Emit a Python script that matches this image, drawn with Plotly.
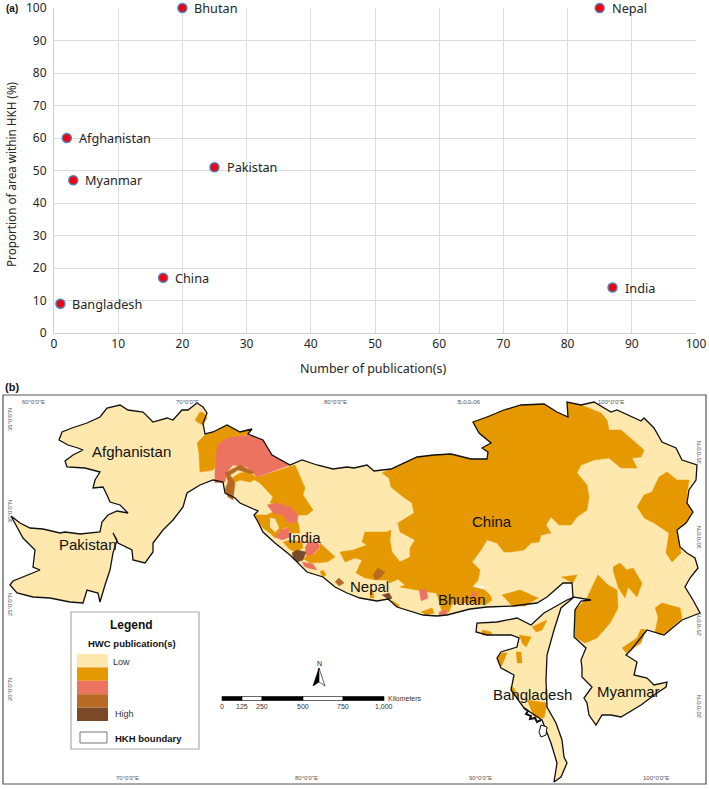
import plotly.graph_objects as go

# panel (a)
countries = ['Bhutan', 'Nepal', 'Afghanistan', 'Pakistan', 'Myanmar', 'China', 'India', 'Bangladesh']
publications = [20, 85, 2, 25, 3, 17, 87, 1]
area_share = [100, 100, 60, 51, 47, 17, 14, 9]
axis_ticks = list(range(0, 101, 10))

hkh_main = [(11,516),(20,523),(30,528),(43,529),(60,533),(65,532),(80,534),(100,532),(102,522),(108,515),(117,511),(128,513),
    (120,505),(110,502),(107,495),(103,487),(93,488),(95,480),(100,472),(85,468),(67,467),(65,461),(73,455),(83,450),(78,448),
    (68,445),(59,440),(62,432),(72,428),(87,423),(100,417),(107,408),(120,405),(128,410),(143,412),(153,422),(167,418),(173,420),
    (182,410),(188,410),(197,403),(203,407),(207,413),(203,423),(205,434),(213,432),(227,425),(240,432),(252,429),(248,434),
    (263,440),(272,455),(290,465),(302,460),(317,465),(333,469),(347,467),(354,468),(367,465),(374,471),(391,469),(404,463),
    (417,457),(434,455),(451,454),(471,459),(487,459),(488,452),(482,448),(491,443),(479,433),(473,422),(487,417),(504,410),
    (521,405),(544,404),(557,412),(568,417),(567,402),(581,405),(594,402),(611,412),(617,410),(641,421),(644,418),(654,428),
    (662,442),(676,448),(682,460),(697,465),(696,480),(689,490),(687,503),(693,512),(686,523),(677,530),(680,547),(687,553),
    (695,558),(698,568),(690,578),(685,587),(693,600),(700,613),(682,620),(664,635),(647,630),(631,650),(626,655),(637,662),
    (634,675),(647,678),(654,685),(667,682),(666,687),(657,693),(641,705),(621,717),(611,715),(602,715),(596,725),(589,715),
    (587,703),(584,698),(592,687),(582,677),(582,668),(581,660),(586,648),(574,637),(575,610),(581,601),(591,600),(573,597),
    (572,583),(563,583),(547,597),(537,603),(513,606),(487,607),(470,609),(447,615),(437,616),(423,615),(407,610),(397,607),
    (388,599),(377,601),(360,598),(347,593),(335,587),(323,577),(307,572),(300,565),(290,555),(275,543),(263,532),(258,522),
    (254,515),(258,511),(240,503),(235,498),(225,493),(223,482),(213,480),(200,485),(187,493),(183,507),(173,520),(163,530),
    (153,543),(153,552),(145,563),(133,560),(132,550),(118,543),(113,533),(117,540),(113,553),(110,570),(105,585),(100,602),
    (98,593),(87,590),(83,603),(70,602),(50,598),(33,597),(17,593),(10,585),(13,581),(20,578),(40,570),(33,567),(35,550),
    (23,538),(15,523),(11,516)]
hkh_finger = [(574,597),(561,608),(554,630),(547,655),(546,680),(547,707),(556,723),(562,740),(564,757),(567,763),(561,777),
    (554,782),(557,763),(551,743),(542,720),(524,708),(511,690),(514,675),(501,668),(497,658),(501,652),(517,647),(519,638),
    (511,635),(487,635),(476,632),(477,623),(497,622),(517,618),(531,625),(544,613),(567,600),(574,597)]
island_a = [(541,725),(547,727),(546,735),(541,737),(539,732),(541,725)]
coast_scribble = [(524,708),(528,711),(526,714),(531,716),(530,719),(535,718),(537,722),(541,720)]

orange_china = [(382,473),(391,469),(404,463),(417,457),(434,455),(451,454),(471,459),(487,459),(488,452),(482,448),(491,443),
    (479,433),(473,422),(487,417),(504,410),(521,405),(544,404),(557,412),(568,417),(567,402),(581,405),(586,407),(601,413),
    (607,420),(609,430),(621,430),(632,440),(644,450),(641,457),(632,458),(637,468),(621,468),(609,458),(594,460),(581,465),
    (577,473),(587,485),(589,497),(587,510),(577,517),(571,525),(559,525),(551,517),(546,525),(551,533),(541,535),(539,542),
    (531,543),(524,550),(511,552),(504,552),(497,543),(487,540),(481,550),(472,562),(480,570),(478,580),(472,587),(457,592),
    (437,593),(428,592),(408,588),(400,587),(405,585),(398,579),(390,583),(388,580),(377,580),(365,578),(356,573),(362,560),
    (355,558),(345,562),(340,552),(353,550),(367,545),(362,542),(365,532),(387,532),(391,530),(390,540),(392,552),(400,562),
    (410,557),(410,548),(415,540),(400,532),(398,523),(410,515),(414,513),(412,503),(402,496),(391,487),(389,478),(382,473)]
orange_afghan = [(195,420),(200,412),(204,413),(207,418),(203,425),(197,422)]
orange_kashmir = [(197,443),(205,435),(213,432),(227,425),(240,432),(252,429),(248,434),(233,438),(217,445),(217,465),(213,470),(200,472),(199,455)]
orange_himachal = [(255,478),(295,465),(305,488),(303,495),(313,510),(307,515),(298,515),(290,507),(270,503),(273,497),(260,483),(255,480)]
orange_strip = [(232,478),(240,473),(248,472),(258,478),(250,482),(240,480),(233,483)]
orange_west = [(255,515),(267,515),(273,512),(283,515),(288,523),(298,522),(300,533),(290,533),(287,527),(280,530),(275,538),(270,533),(263,528),(258,522)]
orange_india = [(283,542),(290,540),(302,542),(303,548),(295,552),(288,548)]
orange_east_india = [(320,543),(335,557),(327,562),(310,563),(304,559),(307,555),(313,555),(320,548)]
orange_south = [(320,572),(323,570),(326,575),(322,577)]
orange_nepal = [(370,593),(373,592),(374,598),(370,598)]
orange_nepal2 = [(391,600),(399,605),(399,608),(394,605)]
orange_bhutan = [(436,593),(480,586),(490,595),(492,600),(485,605),(472,603),(462,603),(452,604),(449,612),(442,612),(440,604)]
orange_foot = [(421,612),(432,608),(434,613),(426,615)]
orange_assam = [(502,595),(520,590),(538,598),(525,606),(512,606)]
orange_north_gap = [(561,577),(577,575),(573,583),(567,580)]
orange_yunnan = [(613,567),(620,563),(627,570),(633,568),(642,583),(637,597),(628,587),(625,598),(618,587),(613,570)]
orange_sichuan = [(637,507),(644,495),(652,492),(659,477),(667,472),(677,480),(689,480),(687,493),(687,503),(693,512),(686,523),(677,530),(681,553),(672,562),(666,553),(669,533),(654,523),(644,518)]
orange_burma = [(575,610),(587,598),(594,583),(598,575),(608,585),(617,590),(618,608),(610,623),(597,638),(585,643),(575,637)]
orange_shan = [(655,608),(662,603),(680,608),(682,618),(667,632),(660,635),(655,632),(658,618)]
orange_chin = [(622,648),(637,638),(641,629),(646,630),(641,643),(626,653)]
orange_ne1 = [(532,627),(544,621),(547,620),(542,630),(536,632)]
orange_ne2 = [(482,630),(491,632),(492,635),(482,635)]
orange_ne3 = [(519,635),(531,637),(526,647),(522,643)]
orange_ne4 = [(516,652),(521,652),(522,663),(517,663)]
orange_ne5 = [(497,658),(502,653),(507,653),(502,665),(500,667)]
orange_ne6 = [(527,700),(547,703),(544,718),(534,717)]
orange_ne7 = [(510,687),(514,688),(519,700),(514,695)]
orange_all = [orange_china, orange_afghan, orange_kashmir, orange_himachal, orange_strip, orange_west, orange_india,
              orange_east_india, orange_south, orange_nepal, orange_nepal2, orange_bhutan, orange_foot, orange_assam,
              orange_north_gap, orange_yunnan, orange_sichuan, orange_burma, orange_shan, orange_chin, orange_ne1,
              orange_ne2, orange_ne3, orange_ne4, orange_ne5, orange_ne6, orange_ne7]

salmon_kashmir = [(217,445),(227,438),(248,435),(263,440),(272,455),(290,465),(257,477),(247,467),(233,465),(227,472),(225,482),(215,483),(215,470)]
salmon_mid = [(267,505),(277,503),(290,507),(298,515),(297,522),(288,523),(283,515),(273,513)]
salmon_small = [(280,530),(288,528),(290,537),(282,540),(275,537)]
salmon_india = [(305,548),(308,542),(318,542),(320,547),(312,555),(306,555)]
salmon_coast = [(302,562),(313,564),(317,570),(308,568),(304,566)]
salmon_nepal = [(419,590),(426,589),(428,598),(421,601)]
salmon_foot = [(439,612),(447,610),(447,615),(439,615)]
salmon_bhutan = [(472,593),(477,593),(476,597),(472,597)]
salmon_all = [salmon_kashmir, salmon_mid, salmon_small, salmon_india, salmon_coast, salmon_nepal, salmon_foot, salmon_bhutan]

brown_strip = [(225,473),(240,465),(254,472),(252,474),(238,470),(230,475),(235,483),(233,500),(228,497),(225,490),(228,482)]
brown_a = [(335,582),(339,578),(344,583),(339,586)]
brown_b = [(373,575),(378,568),(385,572),(380,578),(375,580)]
brown_all = [brown_strip, brown_a, brown_b]

dark_india = [(292,553),(297,550),(306,552),(303,560),(297,562),(293,558)]
dark_nepal = [(382,595),(389,593),(392,598),(389,600)]
dark_all = [dark_india, dark_nepal]

cream_hole = [(270,518),(275,519),(279,528),(275,532),(270,527)]
gap_sliver = [(475,585),(484,587),(484,589),(475,587)]

map_names = ['Afghanistan', 'Pakistan', 'India', 'China', 'Nepal', 'Bhutan', 'Bangladesh', 'Myanmar']
map_name_x = [131, 88, 304, 492, 369, 462, 532, 628]
map_name_y = [451, 544, 537, 521, 586, 599, 694, 691]

top_lon = ['60°0\'0"E', '70°0\'0"E', '80°0\'0"E', '90°0\'0"E', '100°0\'0"E']
top_lon_x = [33, 187, 335, 469, 611]
bottom_lon = ['70°0\'0"E', '80°0\'0"E', '90°0\'0"E', '100°0\'0"E']
bottom_lon_x = [127, 306, 480, 656]
left_lat = ['35°0\'0"N', '30°0\'0"N', '25°0\'0"N', '20°0\'0"N']
left_lat_y = [420, 512, 605, 690]
right_lat = ['35°0\'0"N', '30°0\'0"N', '25°0\'0"N', '20°0\'0"N']
right_lat_y = [453, 538, 625, 707]

legend_colors = ['#FEE8AE', '#E69800', '#EC7360', '#B86A24', '#7A4A28']
scale_stops = [222, 242, 262, 303, 343, 384]
scale_labels = ['0', '125', '250', '500', '750', '1,000']

CREAM, ORANGE, SALMON, BROWN, DARK = legend_colors
W, H = 709, 789

fig = go.Figure()


def add_poly(points, color, line=None, width=0):
    xs = [p[0] for p in points]
    ys = [p[1] for p in points]
    fig.add_trace(go.Scatter(x=xs, y=ys, xaxis='x2', yaxis='y2', mode='lines', fill='toself', fillcolor=color,
                             line=dict(color=line or color, width=width or 0.5), hoverinfo='skip', showlegend=False))


add_poly(hkh_main, CREAM)
add_poly(hkh_finger, CREAM)
for poly in orange_all:
    add_poly(poly, ORANGE)
for poly in salmon_all:
    add_poly(poly, SALMON)
for poly in brown_all:
    add_poly(poly, BROWN)
for poly in dark_all:
    add_poly(poly, DARK)
add_poly(cream_hole, CREAM)
add_poly(gap_sliver, 'white')
add_poly(hkh_main, 'rgba(0,0,0,0)', line='#111111', width=1.3)
add_poly(hkh_finger, 'rgba(0,0,0,0)', line='#111111', width=1.3)
add_poly(island_a, 'white', line='#111111', width=1)
fig.add_trace(go.Scatter(x=[p[0] for p in coast_scribble], y=[p[1] for p in coast_scribble], xaxis='x2', yaxis='y2',
                         mode='lines', line=dict(color='#111111', width=2), hoverinfo='skip', showlegend=False))

# scatter
fig.add_trace(go.Scatter(x=publications, y=area_share, mode='markers', cliponaxis=False, showlegend=False,
                         marker=dict(color='#F5000F', size=9, line=dict(color='#4F81BD', width=1.5))))
annotations = []
for name, px, py in zip(countries, publications, area_share):
    annotations.append(dict(x=px, y=py, xref='x', yref='y', text=name, showarrow=False, xanchor='left', xshift=10,
                            font=dict(family='Noto Sans', size=12.7, color='#262626')))


def map_text(x, y, text, size, color='#111111', family='Liberation Sans', angle=0, anchor='center'):
    annotations.append(dict(x=x, y=y, xref='x2', yref='y2', text=text, showarrow=False, xanchor=anchor, yanchor='middle',
                            textangle=angle, font=dict(family=family, size=size, color=color)))


for name, mx, my in zip(map_names, map_name_x, map_name_y):
    map_text(mx, my, name, 15)
for label, mx in zip(top_lon, top_lon_x):
    map_text(mx, 402, label, 6, color='#555555', angle=180 if label.startswith('90') else 0)
for label, mx in zip(bottom_lon, bottom_lon_x):
    map_text(mx, 778, label, 6, color='#555555')
for label, my in zip(left_lat, left_lat_y):
    map_text(10, my, label, 6, color='#555555', angle=-90)
for label, my in zip(right_lat, right_lat_y):
    map_text(699, my, label, 6, color='#555555', angle=-90)

map_text(4, 8, '<b>(a)</b>', 10, anchor='left')
map_text(3, 387, '<b>(b)</b>', 11, anchor='left')

# axis titles
map_text(373, 368, 'Number of publication(s)', 12.5, color='#262626', family='Noto Sans')
map_text(11, 174, 'Proportion of area within HKH (%)', 11.7, color='#262626', family='Noto Sans', angle=-90)

# legend box
map_text(131, 625, '<b>Legend</b>', 12)
map_text(132, 643, '<b>HWC publication(s)</b>', 9.5)
map_text(111, 662, 'Low', 9, color='#333333', anchor='left')
map_text(113, 714, 'High', 9, color='#333333', anchor='left')
map_text(113, 738, '<b>HKH boundary</b>', 9.5, anchor='left')

# scale bar
for label, sx in zip(scale_labels, scale_stops):
    map_text(sx, 706, label, 7, color='#333333')
map_text(386, 698, 'Kilometers', 7, color='#333333', anchor='left')
map_text(319, 663, 'N', 7, color='#222222')

shapes = [dict(type='rect', xref='x2', yref='y2', x0=3, x1=706, y0=395, y1=784, line=dict(color='#555555', width=1.2), layer='below'),
          dict(type='rect', xref='x2', yref='y2', x0=71, x1=199, y0=612, y1=749, fillcolor='white', line=dict(color='#AAAAAA', width=1.2)),
          dict(type='rect', xref='x2', yref='y2', x0=80, x1=107, y0=732, y1=743, fillcolor='white', line=dict(color='#777777', width=1))]
for i, col in enumerate(legend_colors):
    y0 = 654 + i * 13.4
    shapes.append(dict(type='rect', xref='x2', yref='y2', x0=77, x1=108, y0=y0, y1=y0 + 13.4, fillcolor=col, line=dict(width=0)))
for i in range(len(scale_stops) - 1):
    shapes.append(dict(type='rect', xref='x2', yref='y2', x0=scale_stops[i], x1=scale_stops[i + 1], y0=696.5, y1=700.5,
                       fillcolor='white' if i % 2 else 'black', line=dict(color='black', width=0.6)))
shapes.append(dict(type='path', xref='x2', yref='y2', path='M319,668 L313,686 L319,682 Z', fillcolor='black', line=dict(color='black', width=0.6)))
shapes.append(dict(type='path', xref='x2', yref='y2', path='M319,668 L325,686 L319,682 Z', fillcolor='white', line=dict(color='black', width=0.6)))

fig.update_layout(
    width=W, height=H, margin=dict(l=0, r=0, t=0, b=0), paper_bgcolor='white', plot_bgcolor='rgba(0,0,0,0)',
    annotations=annotations, shapes=shapes, showlegend=False,
    xaxis=dict(domain=[54 / W, 696 / W], range=[0, 100], tickvals=axis_ticks, gridcolor='#DCDCDC', gridwidth=1.3,
               zeroline=False, showline=True, linecolor='#D0D0D0', ticks='', automargin=False, ticklabeloverflow='allow',
               tickfont=dict(family='Noto Sans', size=12, color='#262626'), anchor='y'),
    yaxis=dict(domain=[1 - 333 / H, 1 - 8 / H], range=[0, 100], tickvals=axis_ticks, gridcolor='#DCDCDC', gridwidth=1.3,
               zeroline=False, showline=True, linecolor='#D0D0D0', ticks='outside', ticklen=4, tickcolor='rgba(0,0,0,0)',
               automargin=False, ticklabeloverflow='allow',
               tickfont=dict(family='Noto Sans', size=12, color='#262626'), anchor='x'),
    xaxis2=dict(domain=[0, 1], range=[0, W], visible=False, anchor='y2', fixedrange=True),
    yaxis2=dict(domain=[0, 1], range=[H, 0], visible=False, anchor='x2', fixedrange=True),
)

# body margin of the page would push the figure 8px off
fig.write_html("out.html", config=dict(displayModeBar=False), post_script="document.body.style.margin='0';")
